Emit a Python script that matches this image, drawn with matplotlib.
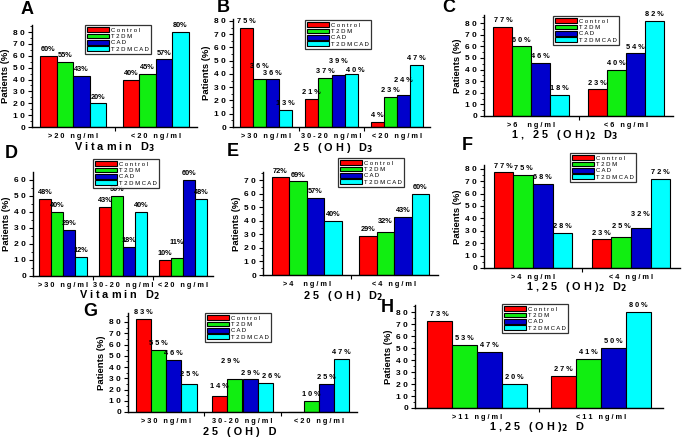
import numpy as np
import matplotlib
matplotlib.use("Agg")
import matplotlib.pyplot as plt
from matplotlib.ticker import FixedLocator, FuncFormatter, NullFormatter

plt.rcParams['font.family'] = ['Liberation Sans', 'DejaVu Sans']
plt.rcParams['font.weight'] = 'bold'
plt.rcParams['mathtext.default'] = 'bf'

W, H = 685, 437

groups = ["Control", "T2DM", "CAD", "T2DMCAD"]
colors = ["#ff0000", "#11ee11", "#0000cc", "#00ffff"]

# panel A
a_cats = [">20 ng/ml", "<20 ng/ml"]
a_control = [60, 40]
a_t2dm = [55, 45]
a_cad = [43, 57]
a_t2dmcad = [20, 80]

# panel B
b_cats = [">30 ng/ml", "30-20 ng/ml", "<20 ng/ml"]
b_control = [75, 21, 4]
b_t2dm = [36, 37, 23]
b_cad = [36, 39, 24]
b_t2dmcad = [13, 40, 47]

# panel C
c_cats = [">6  ng/ml", "<6 ng/ml"]
c_control = [77, 23]
c_t2dm = [60, 40]
c_cad = [46, 54]
c_t2dmcad = [18, 82]

# panel D
d_cats = [">30 ng/ml", "30-20 ng/ml", "<20 ng/ml"]
d_control = [48, 43, 10]
d_t2dm = [40, 50, 11]
d_cad = [29, 18, 60]
d_t2dmcad = [12, 40, 48]

# panel E
e_cats = [">4  ng/ml", "<4 ng/ml"]
e_control = [72, 29]
e_t2dm = [69, 32]
e_cad = [57, 43]
e_t2dmcad = [40, 60]

# panel F
f_cats = [">4 ng/ml", "<4 ng/ml"]
f_control = [77, 23]
f_t2dm = [75, 25]
f_cad = [68, 32]
f_t2dmcad = [28, 72]

# panel G
g_cats = [">30 ng/ml", "30-20 ng/ml", "<20 ng/ml"]
g_control = [83, 14, 0]
g_t2dm = [55, 29, 10]
g_cad = [46, 29, 25]
g_t2dmcad = [25, 26, 47]

# panel H
h_cats = [">11 ng/ml", "<11 ng/ml"]
h_control = [73, 27]
h_t2dm = [53, 41]
h_cad = [47, 50]
h_t2dmcad = [20, 80]


def sp(s):
    return " ".join(s)


def pct(v, spaced):
    return sp(f"{v}%") if spaced else f"{v}%"


# layout in pixels: axis left, y of zero line, axis right, y of ymax
panels = [
    dict(letter="A", cats=a_cats, vals=[a_control, a_t2dm, a_cad, a_t2dmcad],
         box=(32, 127, 197, 25), ymax=86, xlabel=sp("Vitamin D") + "$_3$",
         xl=(115, 147), let=(27, 10), leg=(85, 25), spaced=False, lift={}, shift={}),
    dict(letter="B", cats=b_cats, vals=[b_control, b_t2dm, b_cad, b_t2dmcad],
         box=(233, 127, 430, 19), ymax=81.5, xlabel=sp("25 (OH) D") + "$_3$",
         xl=(333, 148), let=(223, 8), leg=(305, 20), spaced=True,
         lift={(1, 0): 5, (2, 1): 6, (2, 2): 6, (3, 1): -2}, shift={(3, 1): 3}),
    dict(letter="C", cats=c_cats, vals=[c_control, c_t2dm, c_cad, c_t2dmcad],
         box=(484, 116, 673, 15), ymax=87, xlabel=sp("1, 25 (OH)") + "$_2$ " + sp(" D") + "$_3$",
         xl=(565, 135), let=(449, 8), leg=(553, 16), spaced=True, lift={}, shift={}),
    dict(letter="D", cats=d_cats, vals=[d_control, d_t2dm, d_cad, d_t2dmcad],
         box=(33, 276, 213, 172), ymax=65, xlabel=sp("Vitamin D") + "$_2$",
         xl=(120, 295), let=(11, 153), leg=(93, 159), spaced=False,
         lift={(1, 2): 6}, shift={}),
    dict(letter="E", cats=e_cats, vals=[e_control, e_t2dm, e_cad, e_t2dmcad],
         box=(263, 275, 438, 172), ymax=76, xlabel=sp("25 (OH) D") + "$_2$",
         xl=(343, 296), let=(233, 151), leg=(338, 158), spaced=False,
         lift={(1, 1): 3}, shift={}),
    dict(letter="F", cats=f_cats, vals=[f_control, f_t2dm, f_cad, f_t2dmcad],
         box=(484, 268, 680, 165), ymax=83, xlabel=sp("1,25 (OH)") + "$_2$ " + sp(" D") + "$_2$",
         xl=(577, 287), let=(467, 146), leg=(570, 153), spaced=True,
         lift={(2, 1): 6, (1, 1): 3}, shift={}),
    dict(letter="G", cats=g_cats, vals=[g_control, g_t2dm, g_cad, g_t2dmcad],
         box=(128, 412, 357, 313), ymax=88, xlabel=sp("25 (OH) D"),
         xl=(240, 432), let=(90, 311), leg=(205, 313), spaced=True,
         lift={(1, 1): 10, (0, 1): 3, (3, 0): 3}, shift={(1, 1): -3, (3, 1): 4}),
    dict(letter="H", cats=h_cats, vals=[h_control, h_t2dm, h_cad, h_t2dmcad],
         box=(415, 408, 663, 305), ymax=86, xlabel=sp("1,25 (OH)") + "$_2$ " + sp(" D"),
         xl=(537, 427), let=(387, 307), leg=(502, 304), spaced=True, lift={}, shift={}),
]

fig = plt.figure(figsize=(W / 100, H / 100), dpi=100)

for p in panels:
    left, bottom, right, top = p["box"]
    ax = fig.add_axes([left / W, 1 - bottom / H, (right - left) / W, (bottom - top) / H])
    n = len(p["cats"])
    x = np.arange(n)
    bw = 0.2
    for k, (vals, col) in enumerate(zip(p["vals"], colors)):
        xs = x + (k - 1.5) * bw
        ax.bar(xs, vals, width=bw, color=col, edgecolor="black", linewidth=0.8,
               label=sp(groups[k]))
        for j, v in enumerate(vals):
            if v == 0:
                continue
            ax.annotate(pct(v, p["spaced"]), (xs[j], v + p["lift"].get((k, j), 0)),
                        xytext=(p["shift"].get((k, j), 0), 2), textcoords="offset points",
                        ha="center", va="bottom", fontsize=5.3, fontweight="bold")
    ax.set_xlim(-0.5, n - 0.5)
    ax.set_ylim(0, p["ymax"])
    ax.spines["top"].set_visible(False)
    ax.spines["right"].set_visible(False)
    ax.spines["left"].set_linewidth(1)
    ax.spines["bottom"].set_linewidth(1)

    ax.xaxis.set_major_locator(FixedLocator(np.arange(n - 1) + 0.5))
    ax.xaxis.set_major_formatter(NullFormatter())
    ax.xaxis.set_minor_locator(FixedLocator(x))
    ax.set_xticklabels([sp(c) for c in p["cats"]], minor=True)
    ax.tick_params(axis="x", which="major", direction="out", length=3, width=0.8)
    ax.tick_params(axis="x", which="minor", length=0, pad=4, labelsize=5.3)

    top_tick = int(p["ymax"] // 10) * 10
    ax.yaxis.set_major_locator(FixedLocator(np.arange(0, top_tick + 1, 10)))
    ax.yaxis.set_minor_locator(FixedLocator(np.arange(5, p["ymax"], 10)))
    ax.yaxis.set_major_formatter(FuncFormatter(lambda v, pos: sp(str(int(v)))))
    ax.tick_params(axis="y", which="major", direction="out", length=3, width=0.8,
                   labelsize=6, pad=2)
    ax.tick_params(axis="y", which="minor", direction="out", length=1.5, width=0.6)
    ax.set_ylabel("Patients (%)", fontsize=6.8, fontweight="bold", labelpad=2)

    fig.text(p["xl"][0] / W, 1 - p["xl"][1] / H, p["xlabel"], ha="center", va="center",
             fontsize=7.8, fontweight="bold")
    fig.text(p["let"][0] / W, 1 - p["let"][1] / H, p["letter"], ha="center", va="center",
             fontsize=13, fontweight="bold")

    leg = ax.legend(loc="upper left", bbox_to_anchor=(p["leg"][0] / W, 1 - p["leg"][1] / H),
                    bbox_transform=fig.transFigure, fontsize=4.3, frameon=True,
                    fancybox=False, edgecolor="black", handlelength=3.6,
                    handleheight=0.9, handletextpad=0.4, labelspacing=0.15,
                    borderpad=0.35, borderaxespad=0)
    leg.get_frame().set_linewidth(0.9)
    for t in leg.get_texts():
        t.set_fontweight("normal")

fig.savefig("out.png", dpi=100)
